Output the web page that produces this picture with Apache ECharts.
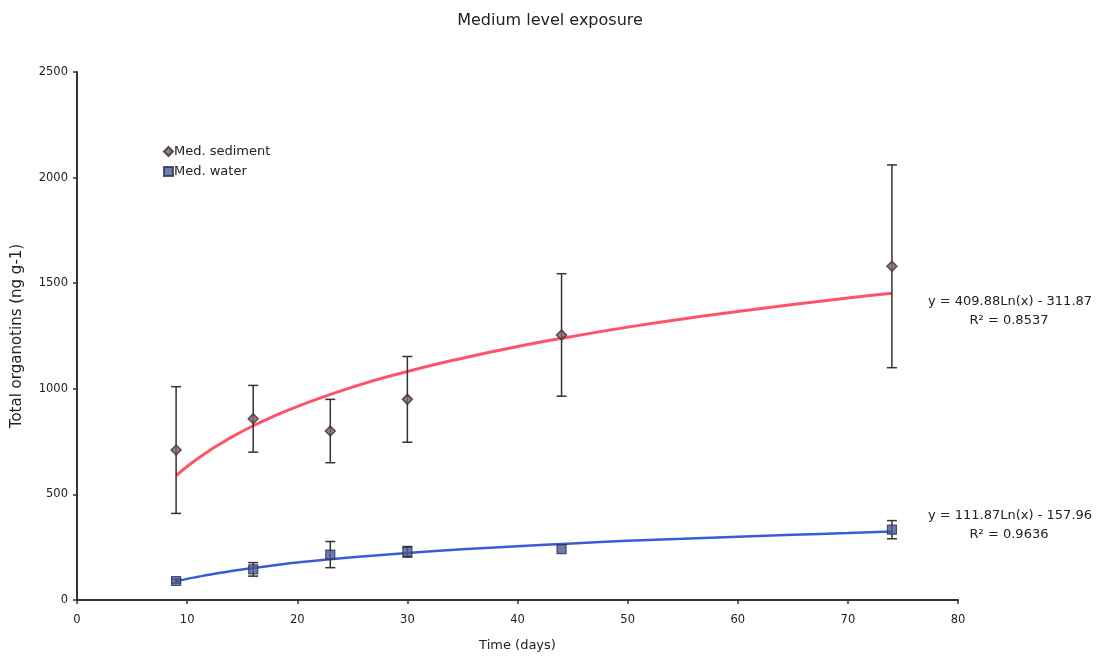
<!DOCTYPE html>
<html>
<head>
<meta charset="utf-8">
<script src="https://cdn.jsdelivr.net/npm/echarts@6/dist/echarts.min.js"></script>
<style>
html,body{margin:0;padding:0;background:#fff;}
#chart{width:1103px;height:661px;}
</style>
</head>
<body>
<div id="chart"></div>
<script>
// ---- data ----
var days = [9, 16, 23, 30, 44, 74];
var sedimentMean = [710, 858, 800, 950, 1255, 1580];
var sedimentErr = [300, 158, 150, 203, 290, 480];
var waterMean = [90, 145, 215, 228, 241, 333];
var waterErr = [10, 32, 62, 25, 0, 43];
// trend-line points (logarithmic fits shown on the chart)
var trendX = [9, 10, 11, 12, 13, 14, 16, 18, 20, 25, 30, 35, 40, 45, 50, 55, 60, 65, 70, 74];
var sedimentTrend = [589, 632, 671, 707, 739, 770, 825, 873, 916, 1008, 1082, 1145, 1200, 1248, 1292, 1331, 1366, 1399, 1430, 1452];
var waterTrend = [88, 100, 110, 120, 129, 137, 152, 165, 177, 202, 223, 240, 255, 268, 280, 290, 300, 309, 317, 324];
var sedimentEq = ['y = 409.88Ln(x) - 311.87', 'R² = 0.8537'];
var waterEq = ['y = 111.87Ln(x) - 157.96', 'R² = 0.9636'];

function pairs(xs, ys) { return xs.map(function (x, i) { return [x, ys[i]]; }); }
function errData(xs, m, e) { return xs.map(function (x, i) { return [x, m[i] - e[i], m[i] + e[i]]; }); }

function errorRender(params, api) {
  var x = api.value(0);
  var lo = api.coord([x, api.value(1)]);
  var hi = api.coord([x, api.value(2)]);
  var w = 5;
  var st = { stroke: '#333', lineWidth: 1.5 };
  if (Math.abs(lo[1] - hi[1]) < 1) return { type: 'group', children: [] };
  return {
    type: 'group',
    children: [
      { type: 'line', shape: { x1: lo[0], y1: lo[1], x2: hi[0], y2: hi[1] }, style: st },
      { type: 'line', shape: { x1: lo[0] - w, y1: lo[1], x2: lo[0] + w, y2: lo[1] }, style: st },
      { type: 'line', shape: { x1: hi[0] - w, y1: hi[1], x2: hi[0] + w, y2: hi[1] }, style: st }
    ]
  };
}

var font = '"DejaVu Sans", "Liberation Sans", sans-serif';
var chart = echarts.init(document.getElementById('chart'), null, { renderer: 'canvas' });
chart.setOption({
  animation: false,
  backgroundColor: '#fff',
  textStyle: { fontFamily: font },
  title: {
    text: 'Medium level exposure',
    left: 545, top: 8, textAlign: 'center',
    textStyle: { fontSize: 16, fontWeight: 'normal', color: '#222', fontFamily: font }
  },
  legend: {
    orient: 'vertical', left: 158, top: 140, itemGap: 7,
    itemWidth: 9, itemHeight: 9,
    textStyle: { fontSize: 13, color: '#222', fontFamily: font, padding: [0, 0, 0, -4] },
    data: ['Med. sediment', 'Med. water']
  },
  grid: { left: 77, top: 72, width: 881, height: 528, containLabel: false },
  xAxis: {
    type: 'value', min: 0, max: 80, interval: 10,
    name: 'Time (days)', nameLocation: 'middle', nameGap: 39,
    nameTextStyle: { fontSize: 13, color: '#222', fontFamily: font },
    axisLine: { lineStyle: { color: '#333', width: 2 } },
    axisTick: { show: true, length: 4, inside: false, lineStyle: { color: '#333', width: 1.5 } },
    axisLabel: { fontSize: 11.5, color: '#222', margin: 14, fontFamily: font },
    splitLine: { show: false }
  },
  yAxis: {
    type: 'value', min: 0, max: 2500, interval: 500,
    name: 'Total organotins (ng g-1)', nameLocation: 'middle', nameGap: 52, nameRotate: 90,
    nameTextStyle: { fontSize: 15, color: '#222', fontFamily: font, padding: [0, 0, 0, 0] },
    axisLine: { show: true, lineStyle: { color: '#333', width: 2 } },
    axisTick: { show: true, length: 4, lineStyle: { color: '#333', width: 1.5 } },
    axisLabel: { fontSize: 11.5, color: '#222', margin: 9, fontFamily: font, formatter: function (v) { return String(v); } },
    splitLine: { show: false }
  },
  graphic: [
    { type: 'text', x: 1010, y: 302, style: { text: sedimentEq[0], font: '13px ' + font, fill: '#222', textAlign: 'center', textVerticalAlign: 'middle' } },
    { type: 'text', x: 1009, y: 321, style: { text: sedimentEq[1], font: '13px ' + font, fill: '#222', textAlign: 'center', textVerticalAlign: 'middle' } },
    { type: 'text', x: 1010, y: 516, style: { text: waterEq[0], font: '13px ' + font, fill: '#222', textAlign: 'center', textVerticalAlign: 'middle' } },
    { type: 'text', x: 1009, y: 535, style: { text: waterEq[1], font: '13px ' + font, fill: '#222', textAlign: 'center', textVerticalAlign: 'middle' } }
  ],
  series: [
    {
      name: 'sedTrend', type: 'line', data: pairs(trendX, sedimentTrend), smooth: true,
      showSymbol: false, symbol: 'none', lineStyle: { color: '#ff5468', width: 3 }, z: 2, silent: true
    },
    {
      name: 'waterTrend', type: 'line', data: pairs(trendX, waterTrend), smooth: true,
      showSymbol: false, symbol: 'none', lineStyle: { color: '#3b5bd6', width: 2.5 }, z: 2, silent: true
    },
    { name: 'sedErr', type: 'custom', renderItem: errorRender, data: errData(days, sedimentMean, sedimentErr), z: 3, silent: true },
    { name: 'waterErr', type: 'custom', renderItem: errorRender, data: errData(days, waterMean, waterErr), z: 3, silent: true },
    {
      name: 'Med. sediment', type: 'scatter', data: pairs(days, sedimentMean),
      symbol: 'diamond', symbolSize: 10,
      itemStyle: { color: '#8a5c5c', borderColor: '#333', borderWidth: 1.5 }, z: 4
    },
    {
      name: 'Med. water', type: 'scatter', data: pairs(days, waterMean),
      symbol: 'rect', symbolSize: 9,
      itemStyle: { color: '#4a5c9e', borderColor: '#2a2f4a', borderWidth: 1.2 }, z: 4
    }
  ]
});
</script>
</body>
</html>
